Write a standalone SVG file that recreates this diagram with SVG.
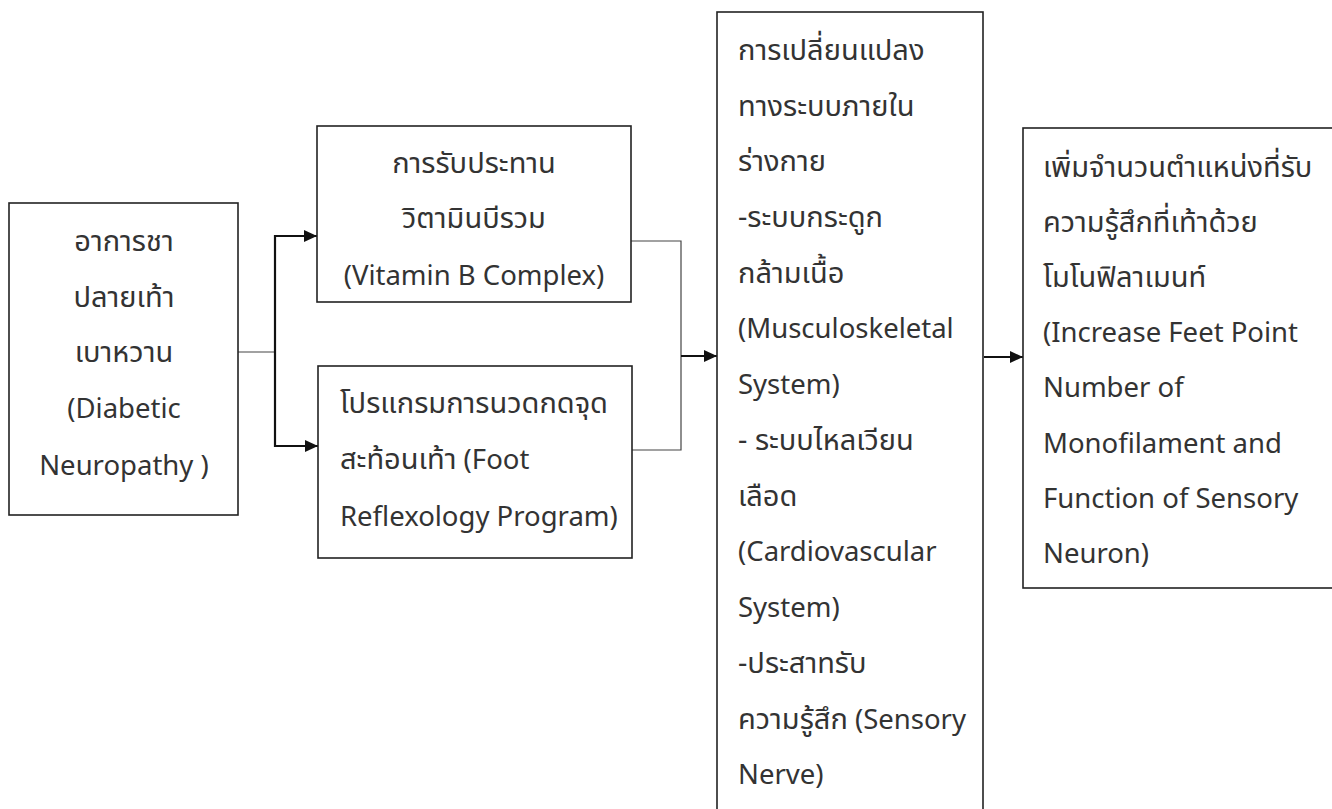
<svg xmlns="http://www.w3.org/2000/svg" width="1332" height="809" viewBox="0 0 1332 809">
  <style>
    .box { fill: #ffffff; stroke: #222222; stroke-width: 1.6; }
    .t { font-family: "Noto Sans Thai", "Leelawadee UI", "Open Sans", "Noto Sans", "DejaVu Sans", sans-serif; font-size: 27.5px; fill: #333333; }
    .th { font-size: 29px; }
    .c { text-anchor: middle; }
    .thin { fill: none; stroke: #444444; stroke-width: 1.2; }
    .thick { fill: none; stroke: #111111; stroke-width: 2.2; }
    .arrow { fill: none; stroke: #111111; stroke-width: 2.2; marker-end: url(#ah); }
  </style>
  <defs>
    <marker id="ah" markerUnits="userSpaceOnUse" markerWidth="14" markerHeight="12" refX="13" refY="6" orient="auto">
      <path d="M0,0 L13,6 L0,12 Z" fill="#111111"/>
    </marker>
  </defs>
  <rect width="1332" height="809" fill="#ffffff"/>

  <g id="connectors">
    <line class="thin" x1="238" y1="352" x2="275" y2="352"/>
    <line class="thick" x1="275" y1="235" x2="275" y2="447"/>
    <line class="arrow" x1="274" y1="236" x2="317" y2="236"/>
    <line class="arrow" x1="274" y1="446" x2="318" y2="446"/>
    <polyline class="thin" points="631,241 681,241 681,450 632,450"/>
    <line class="arrow" x1="681" y1="356" x2="717" y2="356"/>
    <line class="arrow" x1="984" y1="357" x2="1023" y2="357"/>
  </g>

  <g id="node-neuropathy">
    <rect class="box" x="9" y="203" width="229" height="312"/>
    <text class="t th c" x="124" y="251">อาการชา</text>
    <text class="t th c" x="124" y="307">ปลายเท้า</text>
    <text class="t th c" x="124" y="362">เบาหวาน</text>
    <text class="t c" x="124" y="418">(Diabetic</text>
    <text class="t c" x="124" y="475">Neuropathy )</text>
  </g>

  <g id="node-vitamin">
    <rect class="box" x="317" y="126" width="314" height="176"/>
    <text class="t th c" x="474" y="173">การรับประทาน</text>
    <text class="t th c" x="474" y="228">วิตามินบีรวม</text>
    <text class="t c" x="474" y="285">(Vitamin B Complex)</text>
  </g>

  <g id="node-reflexology">
    <rect class="box" x="318" y="366" width="314" height="192"/>
    <text class="t th" x="340" y="413">โปรแกรมการนวดกดจุด</text>
    <text class="t" x="340" y="469"><tspan class="th">สะท้อนเท้า</tspan> (Foot</text>
    <text class="t" x="340" y="526">Reflexology Program)</text>
  </g>

  <g id="node-changes">
    <rect class="box" x="717" y="12" width="266" height="810"/>
    <text class="t th" x="738" y="60">การเปลี่ยนแปลง</text>
    <text class="t th" x="738" y="116">ทางระบบภายใน</text>
    <text class="t th" x="738" y="171">ร่างกาย</text>
    <text class="t th" x="738" y="227">-ระบบกระดูก</text>
    <text class="t th" x="738" y="283">กล้ามเนื้อ</text>
    <text class="t" x="738" y="338">(Musculoskeletal</text>
    <text class="t" x="738" y="394">System)</text>
    <text class="t th" x="738" y="450">- ระบบไหลเวียน</text>
    <text class="t th" x="738" y="506">เลือด</text>
    <text class="t" x="738" y="561">(Cardiovascular</text>
    <text class="t" x="738" y="617">System)</text>
    <text class="t th" x="738" y="673">-ประสาทรับ</text>
    <text class="t" x="738" y="729"><tspan class="th">ความรู้สึก</tspan> (Sensory</text>
    <text class="t" x="738" y="784">Nerve)</text>
  </g>

  <g id="node-outcome">
    <rect class="box" x="1023" y="128" width="330" height="460"/>
    <text class="t th" x="1043" y="177">เพิ่มจำนวนตำแหน่งที่รับ</text>
    <text class="t th" x="1043" y="232">ความรู้สึกที่เท้าด้วย</text>
    <text class="t th" x="1043" y="287">โมโนฟิลาเมนท์</text>
    <text class="t" x="1043" y="342">(Increase Feet Point</text>
    <text class="t" x="1043" y="397">Number of</text>
    <text class="t" x="1043" y="453">Monofilament and</text>
    <text class="t" x="1043" y="508">Function of Sensory</text>
    <text class="t" x="1043" y="563">Neuron)</text>
  </g>
</svg>
